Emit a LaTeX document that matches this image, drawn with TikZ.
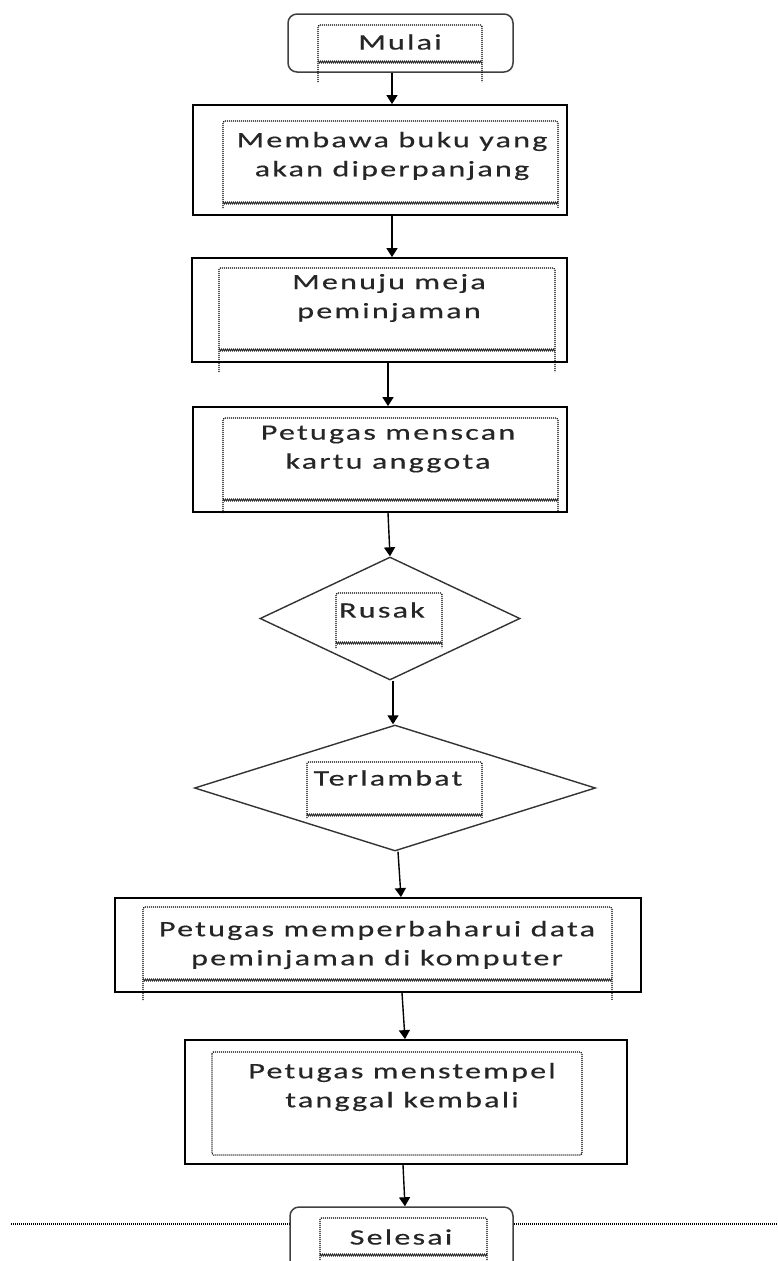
\documentclass[tikz,border=0pt]{standalone}
\usepackage{fontspec}
\setmainfont{Carlito}[FakeStretch=1.46,LetterSpace=10,FakeBold=0.4]
\usetikzlibrary{arrows.meta,shapes.geometric,decorations.pathmorphing}
\newcommand\txtbox[5]{%
  \draw[tbd] (#1,#5) -- (#1,#2) -- (#3,#2) -- (#3,#5);
  \draw[zz] (#1,#4) -- (#3,#4);}
\begin{document}
\begin{tikzpicture}[x=1pt,y=-1pt,
  proc/.style={draw=black,line width=1.8pt,rectangle,inner sep=0pt},
  term/.style={draw=black!75,line width=1.5pt,rectangle,rounded corners=9pt,inner sep=0pt},
  dec/.style={draw=black!80,line width=1.4pt,diamond,inner sep=0pt},
  lbl/.style={inner sep=0pt,align=center,text=black!85,font=\fontsize{22}{29}\selectfont},
  tbd/.style={draw=black,line width=1.3pt,dash pattern=on 1pt off 1pt,rounded corners=1.5pt},
  zz/.style={draw=black!85,line width=0.8pt,decorate,decoration={zigzag,segment length=2pt,amplitude=1pt}},
  arr/.style={draw=black,line width=1.4pt,-{Triangle[width=11pt,length=9pt]}}]
\fill[white] (0,0) rectangle (777,1261);
\useasboundingbox (0,0) rectangle (777,1261);
\clip (0,0) rectangle (777,1261);

% shapes
\node[term,minimum width=225pt,minimum height=58pt] (mulai) at (400.5,43) {};
\node[proc,minimum width=374pt,minimum height=110pt] (b1) at (380,160) {};
\node[proc,minimum width=375pt,minimum height=104pt] (b2) at (379.5,310) {};
\node[proc,minimum width=374pt,minimum height=105pt] (b3) at (380,459.5) {};
\node[dec,minimum width=260pt,minimum height=123pt] (d1) at (390,618.5) {};
\node[dec,minimum width=401pt,minimum height=126pt] (d2) at (395,788) {};
\node[proc,minimum width=526pt,minimum height=94pt] (b4) at (378,945) {};
\node[proc,minimum width=442pt,minimum height=124pt] (b5) at (406,1102) {};
\node[term,minimum width=223pt,minimum height=80pt] (selesai) at (401.5,1247) {};

% text boxes (dotted frames)
\txtbox{318}{25}{482}{62}{82}
\txtbox{223}{121}{558}{203}{208}
\txtbox{219}{268}{555}{350}{372}
\txtbox{223}{418}{558}{500}{513}
\txtbox{336}{593}{442}{643}{648}
\txtbox{307}{762}{482}{815}{818}
\txtbox{143}{907}{612}{980}{1000}
\draw[tbd] (212,1052) rectangle (582,1155);
\txtbox{320}{1218}{487}{1255}{1262}

% labels
\node[lbl] (t0) at (400,42) {Mulai};
\node[lbl] (t1) at (392,156) {Membawa buku yang\\akan diperpanjang};
\node[lbl] (t2) at (389,298) {Menuju meja\\peminjaman};
\node[lbl] (t3) at (388,449) {Petugas menscan\\kartu anggota};
\node[lbl] (t4) at (382,610) {Rusak};
\node[lbl] (t5) at (388,778) {Terlambat};
\node[lbl] (t6) at (377,945) {Petugas memperbaharui data\\peminjaman di komputer};
\node[lbl] (t7) at (402,1087) {Petugas menstempel\\tanggal kembali};
\node[lbl] (t8) at (401,1237) {Selesai};

% dotted horizontal line at the end terminal
\coordinate (ll) at (11,1224);
\coordinate (rr) at (777,1224);
\draw[tbd,rounded corners=0pt] (ll) -- (ll -| selesai.west);
\draw[tbd,rounded corners=0pt] (rr -| selesai.east) -- (rr);

% connectors
\draw[arr] (mulai.south -| 392,0) -- (b1.north -| 392,0);
\draw[arr] (b1.south -| 392,0) -- (b2.north -| 392,0);
\draw[arr] (b2.south -| 388,0) -- (b3.north -| 388,0);
\draw[arr] (b3.south -| 388,0) -- (d1.north);
\draw[arr] (d1.south -| 393,0) -- (d2.north -| 393,0);
\draw[arr] (d2.south -| 398,0) -- (b4.north -| 401,0);
\draw[arr] (b4.south -| 402,0) -- (b5.north -| 405,0);
\draw[arr] (b5.south -| 403,0) -- (selesai.north -| 405,0);
\end{tikzpicture}
\end{document}
